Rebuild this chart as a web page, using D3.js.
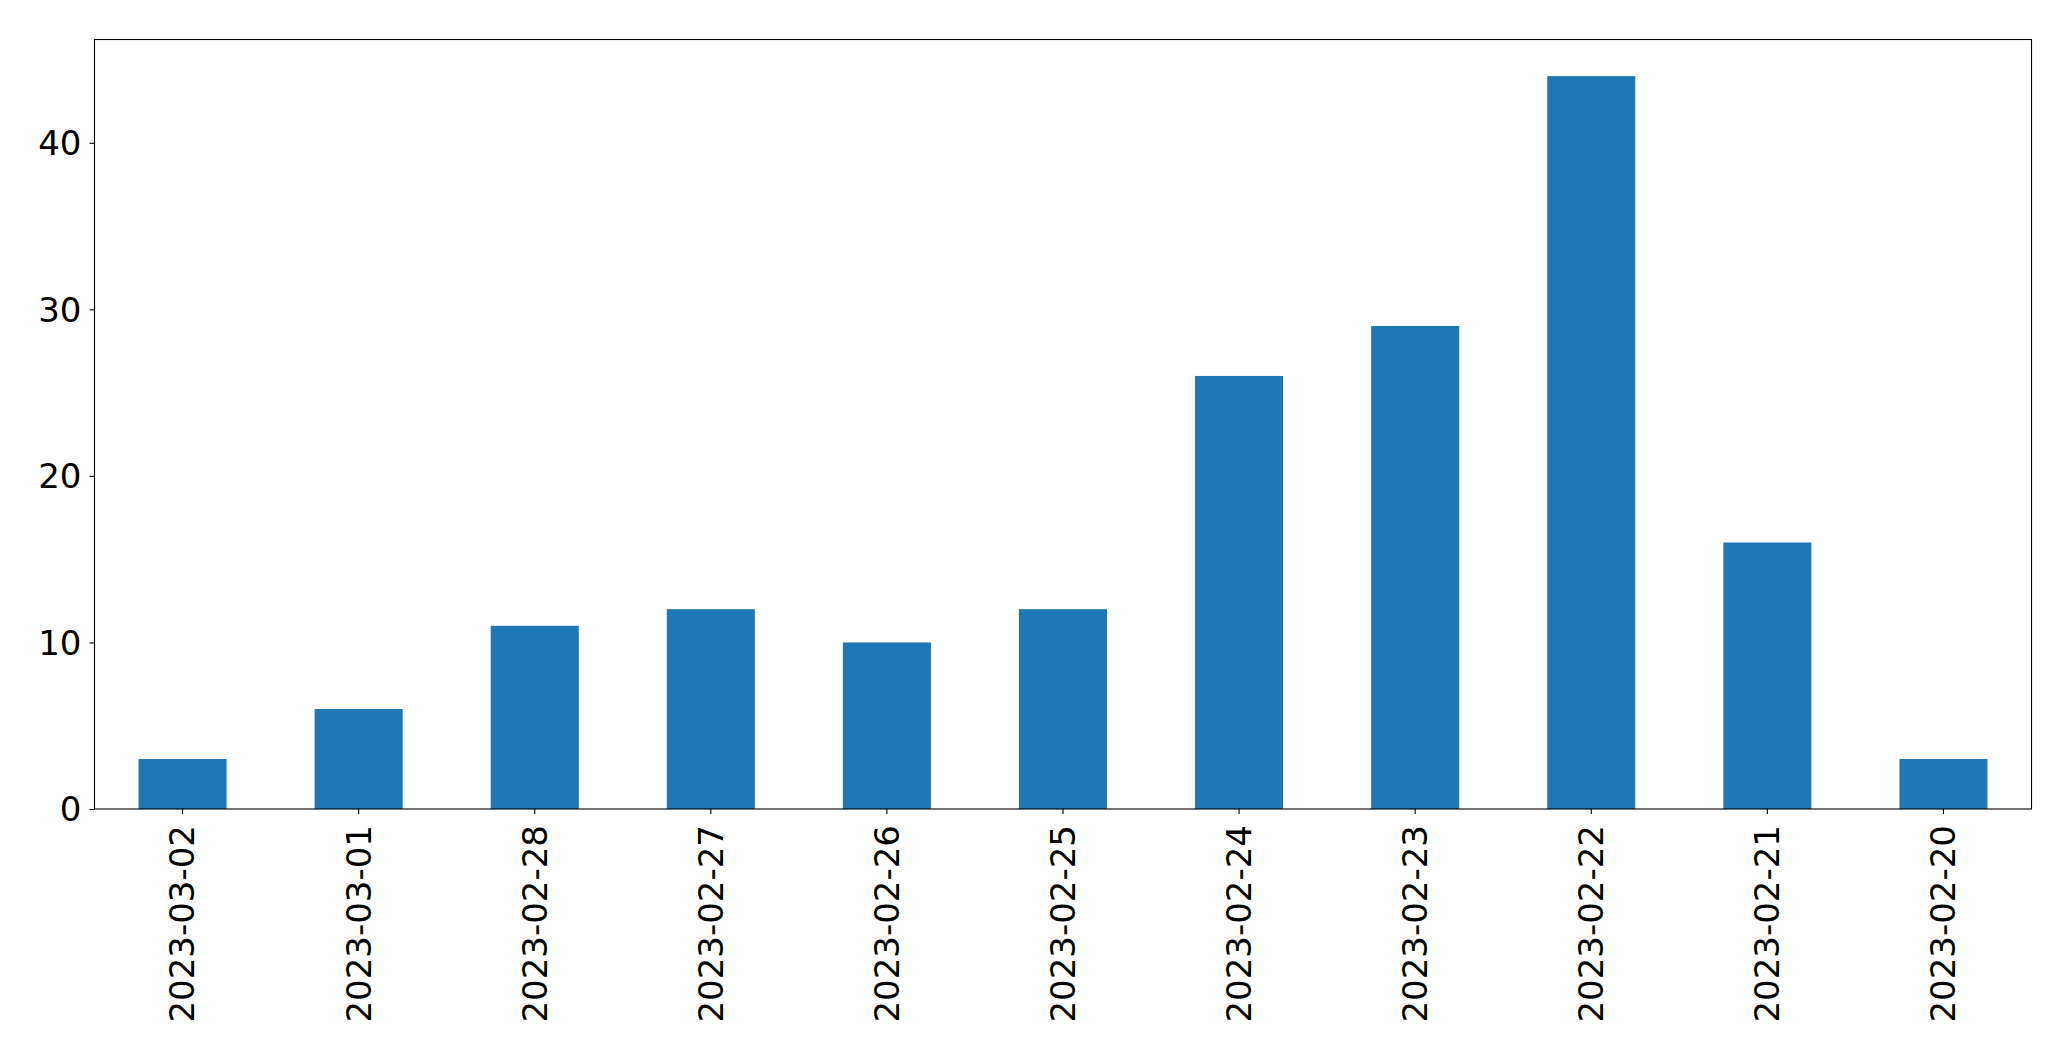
<!DOCTYPE html>
<html>
<head>
<meta charset="utf-8">
<script src="https://cdn.jsdelivr.net/npm/d3@7"></script>
<style>
html,body{margin:0;padding:0;background:#fff;}
svg{display:block;}
text{font-family:"DejaVu Sans",sans-serif;fill:#000;}
</style>
</head>
<body>
<script>
const categories = ["2023-03-02","2023-03-01","2023-02-28","2023-02-27","2023-02-26","2023-02-25","2023-02-24","2023-02-23","2023-02-22","2023-02-21","2023-02-20"];
const counts = [3, 6, 11, 12, 10, 12, 26, 29, 44, 16, 3];
const yTicks = [0, 10, 20, 30, 40];

const W = 2071, H = 1061;
const mLeft = 94.5, mRight = 2031.5, mTop = 39.5, mBottom = 809;
const fontSize = 34;

const svg = d3.select("body").append("svg").attr("width", W).attr("height", H);

const x = d3.scaleBand().domain(categories).range([mLeft, mRight]).paddingInner(0.5).paddingOuter(0.25);
const yMax = d3.max(counts) * 1.05;
const y = d3.scaleLinear().domain([0, yMax]).range([mBottom, mTop]);

svg.append("g").selectAll("rect").data(counts).join("rect")
  .attr("x", (d, i) => x(categories[i]))
  .attr("width", x.bandwidth())
  .attr("y", d => y(d))
  .attr("height", d => y(0) - y(d))
  .attr("fill", "#1f77b4");

// Y axis
const yAxis = svg.append("g").attr("transform", `translate(${mLeft},0)`)
  .call(d3.axisLeft(y).tickValues(yTicks).tickSize(5).tickPadding(8).tickFormat(d3.format("d")));
yAxis.select(".domain").remove();
yAxis.selectAll("line").attr("stroke", "#000").attr("stroke-width", 1.1);
yAxis.selectAll("text").attr("font-size", fontSize).attr("font-family", "DejaVu Sans").attr("dy", "0.35em").attr("fill", "#000");

// X axis
const xAxis = svg.append("g").attr("transform", `translate(0,${mBottom})`)
  .call(d3.axisBottom(x).tickSize(5).tickPadding(0));
xAxis.select(".domain").remove();
xAxis.selectAll("line").attr("stroke", "#000").attr("stroke-width", 1.1);
xAxis.selectAll("text")
  .attr("font-size", fontSize).attr("font-family", "DejaVu Sans").attr("fill", "#000")
  .attr("text-anchor", "end")
  .attr("transform", "translate(0,16) rotate(-90)")
  .attr("x", 0).attr("y", 0).attr("dy", "0.35em");

// Frame
svg.append("rect").attr("x", mLeft).attr("y", mTop).attr("width", mRight - mLeft).attr("height", mBottom - mTop)
  .attr("fill", "none").attr("stroke", "#000").attr("stroke-width", 1.1);
</script>
</body>
</html>
